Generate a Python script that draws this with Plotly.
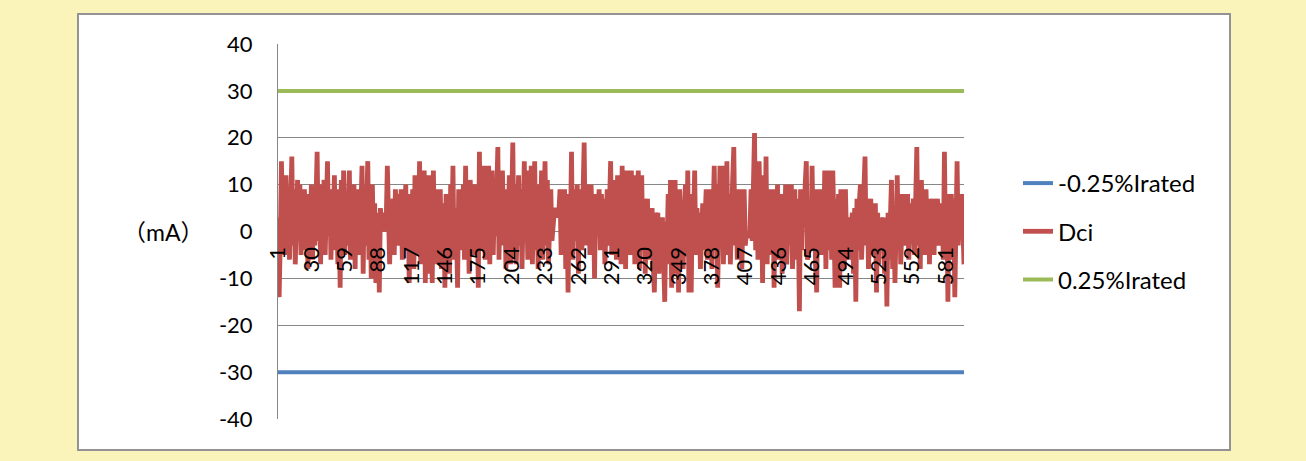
import plotly.graph_objects as go

# ---- data ----
dci_1 = [3, -14, -2, 15, 2, 12, -5, 12, 0, 8, -6, 10, 16, -3, 9, -7, 6, 11, -2, 10, -5, 7, 2, 9, -4, 8, -8, 6, 1, 10]
dci_2 = [-6, 9, -3, 5, 17, -2, 10, -7, 8, 3, 11, -5, 6, 15, -1, 9, -6, 7, 2, 12, -4, 9, -7, 5, -12, 11, -2, 13, -5, 8]
dci_3 = [-3, 6, 13, -6, 8, -1, 10, -8, 7, 2, 9, -5, 6, 14, -9, 8, -3, 11, 15, -6, 7, -10, 10, -4, 6, -11, 4, 2, -13, 5]
dci_4 = [1, 4, 3, 0, 2, 14, 1, -7, 5, 3, 7, -5, 9, 2, -3, 8, 0, 9, -6, 7, 1, 10, -4, 8, -11, 6, -2, 9, -8, 12]
dci_5 = [-5, 7, 0, 15, -7, 9, -3, 13, -11, 8, 2, 12, -9, 6, -11, 13, -4, 9, -7, 4, 0, 9, -8, 2, 6, -12, 8, -5, 3, -9]
dci_6 = [10, -2, 14, -6, 5, 1, -12, 9, -4, 7, 0, 10, -6, 14, -3, 8, -9, 11, 2, 6, -5, 10, -1, 8, -12, 17, -4, 9, 1, 14]
dci_7 = [-6, 10, -2, 14, -7, 8, 13, -5, 6, -1, 11, 18, -6, 7, -3, 13, 0, 9, -8, 6, 2, 12, -7, 8, 19, -4, 10, -7, 6, 12]
dci_8 = [-3, 9, -8, 12, 15, -2, 8, -6, 13, 1, 14, -7, 7, 15, -4, 10, -8, 6, 2, 13, -6, 9, 15, -3, 11, -7, 5, 9, -2, 4]
dci_9 = [4, 5, 4, 3, 4, 9, -5, 7, 2, 9, -8, 6, -13, 8, 0, 17, -6, 9, -2, 6, 10, -9, 9, 1, -4, 8, 19, -3, 10, 2]
dci_10 = [8, -5, 10, 3, 6, -10, 8, -1, 5, 9, -4, 8, 0, 7, -7, 6, 9, -3, 5, 15, -5, 11, -1, 8, -6, 12, 2, 9, -7, 14]
dci_11 = [-3, 10, -8, 13, 1, 8, -5, 13, -2, 9, -7, 12, 3, 13, -8, 6, 12, -4, 7, -9, 5, 7, -6, 4, 1, 5, -7, -13, 4, 2]
dci_12 = [4, -9, 3, 1, 3, -6, -15, 2, -3, 8, -7, 11, -12, 6, 0, 11, -9, 5, -13, 9, -2, 6, -8, 4, 10, -5, 13, -13, 8, -13]
dci_13 = [6, 2, 13, -5, 5, 0, 4, -8, 3, 6, -4, 2, 9, -6, 7, 1, 9, -8, 6, 14, -3, 10, -12, 7, 14, -2, 14, -7, 9, 2]
dci_14 = [15, -5, 8, -7, 6, 11, 18, -3, 9, -6, 7, 1, 9, -8, 5, 9, -3, 0, -1, -1, 0, 9, -2, 7, 21, -4, 10, -6, 15, 3]
dci_15 = [8, -11, 12, -3, 16, -7, 9, 2, 8, -5, 9, -12, 6, 1, 10, -6, 4, 8, -9, 8, -3, 10, -7, 6, 10, -2, 10, -8, 5, 9]
dci_16 = [-6, 7, 2, -17, 9, -4, 7, 1, 10, 15, -6, -3, -3, -4, 14, -2, 9, -7, -13, 9, 3, 7, -5, 9, -1, 13, -8, 8, 13, -4]
dci_17 = [10, -6, 13, 2, -12, 7, -3, 8, -12, 9, 0, 6, -8, 9, -2, 3, -6, 2, 1, 4, -9, 5, -15, 7, -4, 6, 10, -6, 3, 8]
dci_18 = [16, -3, 7, -8, 6, 7, -5, 6, 0, 6, -13, 4, -7, 3, 0, 2, 3, -9, 1, -16, 4, -6, 3, 11, -8, 5, -11, 9, 12, -4]
dci_19 = [8, -7, 5, 8, -3, 6, -1, 8, -6, 5, 6, -2, 7, -5, 3, 18, -3, 7, -8, 11, 0, 6, -5, 9, -2, 7, -7, 6, 2, 7]
dci_20 = [-5, 6, 0, 7, -3, 6, 2, 5, -6, 17, -4, 8, -15, 6, 1, 8, -6, 7, -14, 4, 15, -3, 7, 2, 8, 1, -7]

dci = (dci_1 + dci_2 + dci_3 + dci_4 + dci_5 + dci_6 + dci_7 + dci_8 + dci_9 + dci_10
       + dci_11 + dci_12 + dci_13 + dci_14 + dci_15 + dci_16 + dci_17 + dci_18 + dci_19 + dci_20)
samples = list(range(1, len(dci) + 1))
lower_limit = [-30] * len(dci)
upper_limit = [30] * len(dci)
x_tick_labels = [1, 30, 59, 88, 117, 146, 175, 204, 233, 262, 291, 320, 349, 378, 407, 436, 465, 494, 523, 552, 581]
y_tick_vals = [-40, -30, -20, -10, 0, 10, 20, 30, 40]
y_tick_text = ["-40", "-30", "-20", "-10", "0", "10", "20", "30", "40"]

series_names = ["-0.25%Irated", "Dci", "0.25%Irated"]
colors = ["#4F81BD", "#C0504D", "#9BBB59"]
widths = [4, 4.8, 4]

FONT = "Lato, 'Noto Sans CJK SC', sans-serif"

fig = go.Figure()
for i, (name, ys) in enumerate(zip(series_names, [lower_limit, dci, upper_limit])):
    fig.add_trace(go.Scatter(
        x=samples, y=ys, mode="lines", name=name,
        line=dict(color=colors[i], width=widths[i]),
        legendgroup=name,
    ))

# Plot area: x 278..964, y 44..419
W, H = 1306, 461
L, R, T, B = 278, 964, 44, 419
pw, ph = R - L, B - T

def px(x):
    return (x - L) / pw

def py(y):
    return (B - y) / ph

fig.update_layout(
    width=W, height=H,
    margin=dict(l=L, r=W - R, t=T, b=H - B),
    paper_bgcolor="#FAF3BA",
    plot_bgcolor="white",
    font=dict(family=FONT, size=22, color="black"),
    showlegend=True,
    legend=dict(
        x=px(1018), y=0.5, xanchor="left", yanchor="middle",
        bgcolor="rgba(0,0,0,0)", traceorder="grouped", tracegroupgap=14,
        font=dict(family=FONT, size=24),
    ),
    xaxis=dict(
        range=[1, len(dci)], tickmode="array", tickvals=x_tick_labels,
        ticktext=[str(t) for t in x_tick_labels], tickangle=-90,
        anchor="free", position=0.5, showgrid=False, zeroline=False,
        showline=False, ticks="", ticklabelstandoff=10,
        tickfont=dict(family=FONT, size=22),
    ),
    yaxis=dict(
        range=[-40, 40], tickmode="array", tickvals=y_tick_vals, ticktext=y_tick_text,
        showgrid=True, gridcolor="#878787", gridwidth=1,
        zeroline=True, zerolinecolor="#878787", zerolinewidth=1,
        showline=True, linecolor="#878787", linewidth=1, ticks="",
        ticklabelstandoff=20, tickfont=dict(family=FONT, size=22),
    ),
    shapes=[
        dict(type="rect", xref="paper", yref="paper", layer="below",
             x0=px(78), x1=px(1230), y0=py(450), y1=py(14),
             fillcolor="white", line=dict(color="#939393", width=2)),
    ],
    annotations=[
        dict(text="（mA）", xref="paper", yref="paper", x=px(163), y=0.5,
             xanchor="center", yanchor="middle", showarrow=False,
             font=dict(family=FONT, size=23)),
    ],
)

fig.write_html("out.html", config={"displayModeBar": False},
               post_script="document.body.style.margin='0px';")
